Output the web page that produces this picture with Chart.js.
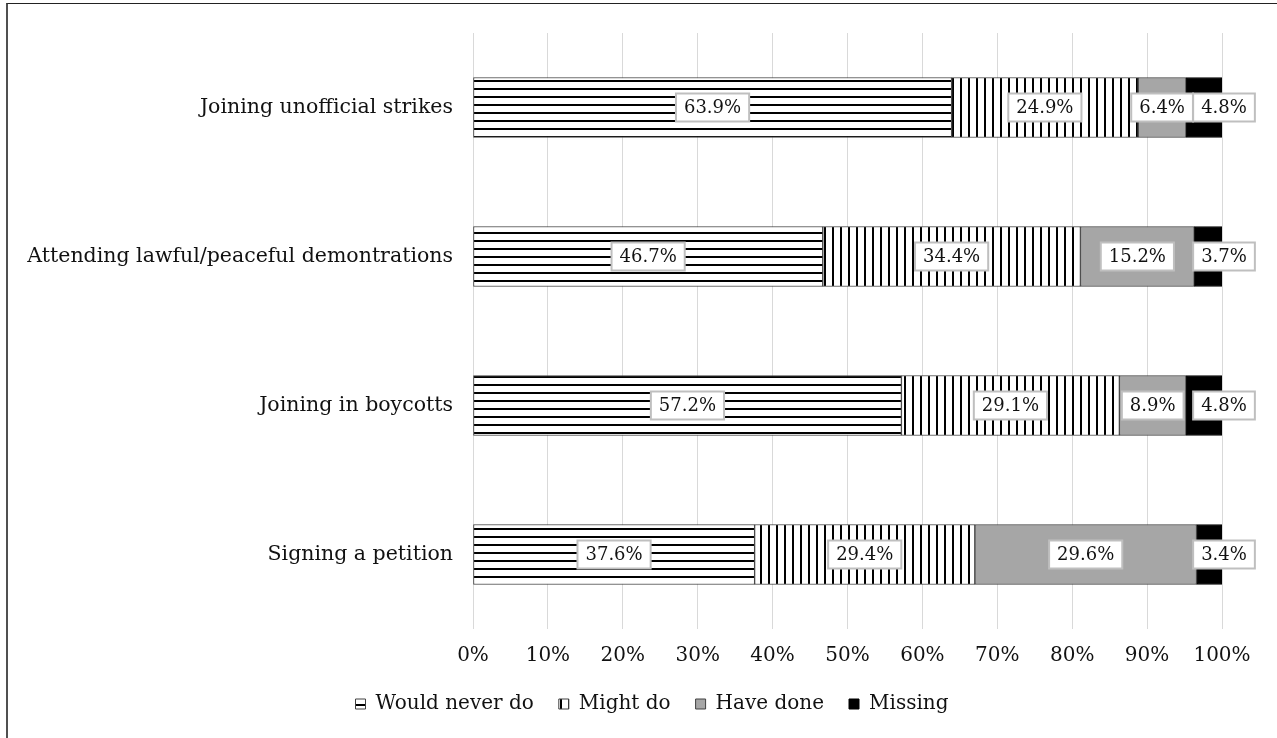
<!DOCTYPE html>
<html>
<head>
<meta charset="utf-8">
<script src="https://cdn.jsdelivr.net/npm/chart.js@4.4.1/dist/chart.umd.min.js"></script>
<style>
  html, body { margin: 0; padding: 0; background: #fff; }
  #wrap { position: relative; width: 1277px; height: 738px; overflow: hidden; }
  #frame { position: absolute; left: 6px; top: 3px; width: 1400px; height: 900px;
           border-left: 2px solid #505050; border-top: 1px solid #222; box-sizing: border-box; }
  canvas { position: absolute; left: 0; top: 0; }
</style>
</head>
<body>
<div id="wrap">
  <div id="frame"></div>
  <canvas id="c" width="1277" height="738"></canvas>
</div>
<script>
// Survey responses on forms of political action (percent of respondents)
const categories = [
  'Joining unofficial strikes',
  'Attending lawful/peaceful demontrations',
  'Joining in boycotts',
  'Signing a petition'
];
const seriesNames = ['Would never do', 'Might do', 'Have done', 'Missing'];
const wouldNeverDo = [63.9, 46.7, 57.2, 37.6];
const mightDo      = [24.9, 34.4, 29.1, 29.4];
const haveDone     = [6.4, 15.2, 8.9, 29.6];
const missing      = [4.8, 3.7, 4.8, 3.4];
const tickValues   = [0, 10, 20, 30, 40, 50, 60, 70, 80, 90, 100];

const FONT = "'DejaVu Serif', 'Liberation Serif', serif";

// Line-hatch fills for the first two series
function hatch(vertical) {
  const t = document.createElement('canvas');
  t.width = 8; t.height = 8;
  const g = t.getContext('2d');
  g.fillStyle = '#fff';
  g.fillRect(0, 0, 8, 8);
  g.fillStyle = '#000';
  if (vertical) g.fillRect(0, 0, 2, 8);
  else g.fillRect(0, 0, 8, 2);
  return g.createPattern(t, 'repeat');
}

const ctx = document.getElementById('c').getContext('2d');

const fills = [hatch(false), hatch(true), '#a6a6a6', '#000000'];
const values = [wouldNeverDo, mightDo, haveDone, missing];

// Boxed value labels; the last series is labelled at the bar end
const valueLabels = {
  id: 'valueLabels',
  afterDatasetsDraw(chart) {
    const c = chart.ctx;
    c.save();
    c.font = '18px ' + FONT;
    c.textAlign = 'center';
    c.textBaseline = 'middle';
    chart.data.datasets.forEach((ds, di) => {
      const meta = chart.getDatasetMeta(di);
      meta.data.forEach((bar, i) => {
        const v = ds.data[i];
        const txt = v.toFixed(1) + '%';
        const last = di === chart.data.datasets.length - 1;
        const cx = last ? bar.x + 2 : (bar.x + bar.base) / 2;
        const cy = bar.y;
        const w = c.measureText(txt).width + 16;
        const h = 28;
        c.fillStyle = '#fff';
        c.fillRect(cx - w / 2, cy - h / 2, w, h);
        c.strokeStyle = '#bfbfbf';
        c.lineWidth = 2;
        c.strokeRect(cx - w / 2, cy - h / 2, w, h);
        c.fillStyle = '#111';
        c.fillText(txt, cx, cy + 1);
      });
    });
    c.restore();
  }
};

// Centre the legend row under the whole figure rather than the plot box
const legendShift = {
  id: 'legendShift',
  afterLayout(chart) {
    const lg = chart.legend;
    if (lg) { lg.left += 41; lg.right += 41; }
  }
};

new Chart(ctx, {
  type: 'bar',
  data: {
    labels: categories,
    datasets: seriesNames.map((name, k) => ({
      label: name,
      data: values[k],
      backgroundColor: fills[k],
      borderColor: k === 3 ? '#000' : '#404040',
      borderWidth: 1,
      borderSkipped: false,
      barThickness: 60
    }))
  },
  options: {
    indexAxis: 'y',
    responsive: false,
    animation: false,
    devicePixelRatio: 1,
    layout: { padding: { top: 33, right: 55, bottom: 14, left: 0 } },
    scales: {
      x: {
        stacked: true,
        min: 0, max: 100,
        afterBuildTicks(scale) { scale.ticks = tickValues.map(v => ({ value: v })); },
        afterFit(scale) { scale.height = 40; },
        grid: { color: '#d9d9d9', lineWidth: 1, drawTicks: false },
        border: { display: false },
        ticks: {
          padding: 15,
          color: '#111',
          font: { family: FONT, size: 20 },
          callback: v => v + '%'
        }
      },
      y: {
        stacked: true,
        afterFit(scale) { scale.width = 473; },
        grid: { display: false, drawTicks: false },
        border: { display: false },
        ticks: {
          padding: 20,
          color: '#111',
          font: { family: FONT, size: 20.5 }
        }
      }
    },
    plugins: {
      legend: {
        position: 'bottom',
        labels: {
          boxWidth: 10,
          boxHeight: 10,
          padding: 25,
          color: '#111',
          font: { family: FONT, size: 20 }
        }
      },
      tooltip: { enabled: false }
    }
  },
  plugins: [valueLabels, legendShift]
});
</script>
</body>
</html>
